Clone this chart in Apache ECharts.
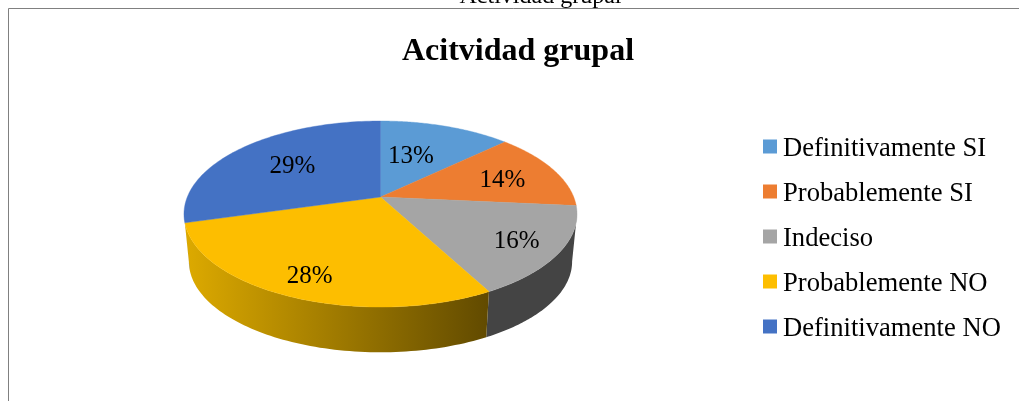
<!DOCTYPE html>
<html><head><meta charset="utf-8">
<style>html,body{margin:0;padding:0;background:#fff}#c{width:1019px;height:401px}</style>
<script src="https://cdn.jsdelivr.net/npm/echarts@6/dist/echarts.min.js"></script>
</head><body><div id="c"></div>
<script>
const categories = ['Definitivamente SI','Probablemente SI','Indeciso','Probablemente NO','Definitivamente NO'];
const values = [12.9, 13.6, 15.7, 28.4, 29.4];
const colors = ['#5B9BD5','#ED7D31','#A5A5A5','#FDBE00','#4472C4'];
const sideColors = ['#2f5f8c','#a0501c','#444444',null,'#2a4a80'];
const labelRadius = [0.55,0.69,0.78,0.81,0.62];
const labelTurn = [-5,1,0,0,1];

const F = 'Liberation Serif, Times New Roman, serif';
const CX=380.5, CY=197, A=193.2, B=89.9, K=0.183, DROP=48, SHRINK=0.975;
function proj(t,r){const x=r*Math.sin(t),y=r*Math.cos(t),d=1+K*y;return [CX+A*x/d,CY-B*y/d];}
function low(p){return [CX+SHRINK*(p[0]-CX),CY+DROP+SHRINK*(p[1]-CY)];}
function rad(d){return d*Math.PI/180;}
const total = values.reduce((a,b)=>a+b,0);
let run=0;
const spans = values.map(v=>{const s=[run,run+v];run+=v;return s;});

function render(i){return function(params,api){
  const a0=api.value(0)/total*2*Math.PI, a1=api.value(1)/total*2*Math.PI;
  const children=[];
  const visL=Math.acos(-K), visR=2*Math.PI-visL;
  const s0=Math.max(a0,visL), s1=Math.min(a1,visR);
  if(s1>s0){
    const up=[],dn=[];
    for(let n=0;n<=80;n++){const p=proj(s0+(s1-s0)*n/80,1);up.push(p);dn.push(low(p));}
    let fill=sideColors[i];
    if(!fill){
      const xs=up.concat(dn).map(p=>p[0]);
      fill=new echarts.graphic.LinearGradient(Math.min(...xs),0,Math.max(...xs),0,
        [{offset:0,color:'#DDAA00'},{offset:1,color:'#614A00'}],true);
    }
    children.push({type:'polygon',shape:{points:up.concat(dn.reverse())},style:{fill:fill},z2:1});
  }
  const pts=[proj(0,0)];
  for(let n=0;n<=80;n++)pts.push(proj(a0+(a1-a0)*n/80,1));
  children.push({type:'polygon',shape:{points:pts},style:{fill:colors[i],stroke:colors[i],lineWidth:0.4},z2:2});
  const m=proj((a0+a1)/2+rad(labelTurn[i]),labelRadius[i]);
  children.push({type:'text',x:m[0],y:m[1]+2,z2:3,style:{text:Math.round(api.value(1)-api.value(0))+'%',
    fill:'#000',font:'25px '+F,align:'center',verticalAlign:'middle'}});
  return {type:'group',children};
};}

const chart=echarts.init(document.getElementById('c'),null,{renderer:'canvas'});
chart.setOption({
  animation:false,
  backgroundColor:'#fff',
  title:[
    {text:'Acitvidad grupal',left:513,top:31,textAlign:'center',textStyle:{fontFamily:F,fontWeight:'bold',fontSize:32,color:'#000'}},
    {text:'Actividad grupal',left:535.5,top:-20,textAlign:'center',textStyle:{fontFamily:F,fontWeight:'normal',fontSize:24,color:'#000'}}
  ],
  legend:{orient:'vertical',left:758,top:131,icon:'rect',itemWidth:14,itemHeight:14,itemGap:18,
    data:categories,selectedMode:false,formatter:'{t|{name}}',
    textStyle:{rich:{t:{fontFamily:F,fontSize:26.6,color:'#000',padding:[6,0,0,1]}}}},
  graphic:[
    {type:'line',silent:true,shape:{x1:8.5,y1:8.5,x2:1019,y2:8.5},style:{stroke:'#808080',lineWidth:1}},
    {type:'line',silent:true,shape:{x1:8.5,y1:8.5,x2:8.5,y2:401},style:{stroke:'#808080',lineWidth:1}}
  ],
  series:categories.map((name,i)=>({
    type:'custom',name,coordinateSystem:'none',itemStyle:{color:colors[i]},
    data:[spans[i]],renderItem:render(i),silent:true
  }))
});
</script></body></html>
